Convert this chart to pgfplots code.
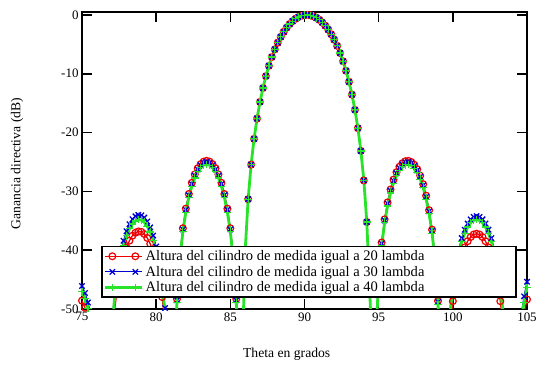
\documentclass[border=0pt]{standalone}
\usepackage{fontspec}
\setmainfont{Liberation Serif}
\usepackage{pgfplots}
\usepackage{pgfplotstable}
\pgfplotsset{compat=1.18}
\definecolor{cred}{RGB}{240,0,0}
\definecolor{cblue}{RGB}{0,0,210}
\definecolor{cgreen}{RGB}{40,228,40}

\pgfplotstableread{
theta red blue green
75.0 -48.58 -46.08 -47.08
75.2 -49.78 -47.28 -48.28
75.4 -51.39 -48.89 -49.89
75.6 -53.53 -51.03 -52.03
75.8 -56.38 -53.88 -54.88
76.0 -60 -57.78 -58.78
76.2 -60 -60 -60
76.4 -60 -60 -60
76.6 -60 -60 -60
76.8 -60 -60 -60
77.0 -55.83 -53.03 -53.83
77.2 -50.08 -47.28 -48.08
77.4 -46.18 -43.38 -44.18
77.6 -43.33 -40.53 -41.33
77.8 -41.19 -38.39 -39.19
78.0 -39.57 -36.77 -37.57
78.2 -38.38 -35.58 -36.38
78.4 -37.54 -34.74 -35.54
78.6 -37.03 -34.23 -35.03
78.8 -36.81 -34.01 -34.81
79.0 -36.88 -34.08 -34.88
79.2 -37.25 -34.45 -35.25
79.4 -37.92 -35.12 -35.92
79.6 -38.92 -36.12 -36.92
79.8 -40.32 -37.52 -38.32
80.0 -42.18 -39.38 -40.18
80.2 -44.65 -41.85 -42.65
80.4 -47.97 -45.17 -45.97
80.6 -52.64 -49.84 -50.64
80.8 -60 -57.19 -57.99
81.0 -60 -60 -60
81.2 -60 -60 -60
81.4 -48.31 -48.51 -48.91
81.6 -40.95 -41.15 -41.55
81.8 -36.27 -36.47 -36.87
82.0 -32.93 -33.13 -33.53
82.2 -30.44 -30.64 -31.04
82.4 -28.55 -28.75 -29.15
82.6 -27.12 -27.32 -27.72
82.8 -26.07 -26.27 -26.67
83.0 -25.36 -25.56 -25.96
83.2 -24.94 -25.14 -25.54
83.4 -24.80 -25.00 -25.40
83.6 -24.94 -25.14 -25.54
83.8 -25.36 -25.56 -25.96
84.0 -26.07 -26.27 -26.67
84.2 -27.12 -27.32 -27.72
84.4 -28.55 -28.75 -29.15
84.6 -30.44 -30.64 -31.04
84.8 -32.93 -33.13 -33.53
85.0 -36.27 -36.47 -36.87
85.2 -40.95 -41.15 -41.55
85.4 -48.31 -48.51 -48.91
85.6 -60 -60 -60
85.8 -58.25 -58.25 -58.25
86.0 -40.18 -40.18 -40.18
86.2 -31.32 -31.32 -31.32
86.4 -25.45 -25.45 -25.45
86.6 -21.07 -21.07 -21.07
86.8 -17.62 -17.62 -17.62
87.0 -14.79 -14.79 -14.79
87.2 -12.42 -12.42 -12.42
87.4 -10.40 -10.40 -10.40
87.6 -8.66 -8.66 -8.66
87.8 -7.15 -7.15 -7.15
88.0 -5.85 -5.85 -5.85
88.2 -4.71 -4.71 -4.71
88.4 -3.73 -3.73 -3.73
88.6 -2.88 -2.88 -2.88
88.8 -2.16 -2.16 -2.16
89.0 -1.55 -1.55 -1.55
89.2 -1.05 -1.05 -1.05
89.4 -0.65 -0.65 -0.65
89.6 -0.35 -0.35 -0.35
89.8 -0.14 -0.14 -0.14
90.0 -0.03 -0.03 -0.03
90.2 0.00 0.00 0.00
90.4 -0.07 -0.07 -0.07
90.6 -0.23 -0.23 -0.23
90.8 -0.48 -0.48 -0.48
91.0 -0.83 -0.83 -0.83
91.2 -1.28 -1.28 -1.28
91.4 -1.84 -1.84 -1.84
91.6 -2.50 -2.50 -2.50
91.8 -3.29 -3.29 -3.29
92.0 -4.20 -4.20 -4.20
92.2 -5.26 -5.26 -5.26
92.4 -6.48 -6.48 -6.48
92.6 -7.88 -7.88 -7.88
92.8 -9.50 -9.50 -9.50
93.0 -11.37 -11.37 -11.37
93.2 -13.55 -13.55 -13.55
93.4 -16.14 -16.14 -16.14
93.6 -19.25 -19.25 -19.25
93.8 -23.12 -23.12 -23.12
94.0 -28.14 -28.14 -28.14
94.2 -35.21 -35.21 -35.21
94.4 -47.06 -47.06 -47.06
94.6 -60 -60 -60
94.8 -54.56 -54.76 -55.16
95.0 -44.46 -44.66 -45.06
95.2 -38.69 -38.89 -39.29
95.4 -34.75 -34.95 -35.35
95.6 -31.87 -32.07 -32.47
95.8 -29.68 -29.88 -30.28
96.0 -28.00 -28.20 -28.60
96.2 -26.73 -26.93 -27.33
96.4 -25.81 -26.01 -26.41
96.6 -25.21 -25.41 -25.81
96.8 -24.87 -25.07 -25.47
97.0 -24.81 -25.01 -25.41
97.2 -25.01 -25.21 -25.61
97.4 -25.47 -25.67 -26.07
97.6 -26.23 -26.43 -26.83
97.8 -27.33 -27.53 -27.93
98.0 -28.78 -28.98 -29.38
98.2 -30.73 -30.93 -31.33
98.4 -33.20 -33.40 -33.80
98.6 -36.50 -36.70 -37.10
98.8 -41.18 -41.38 -41.78
99.0 -48.61 -48.81 -49.21
99.2 -60 -60 -60
99.4 -60 -60 -60
99.6 -60 -57.71 -58.31
99.8 -53.35 -50.35 -50.95
100.0 -48.67 -45.67 -46.27
100.2 -45.33 -42.33 -42.93
100.4 -42.84 -39.84 -40.44
100.6 -40.95 -37.95 -38.55
100.8 -39.52 -36.52 -37.12
101.0 -38.47 -35.47 -36.07
101.2 -37.76 -34.76 -35.36
101.4 -37.34 -34.34 -34.94
101.6 -37.20 -34.20 -34.80
101.8 -37.34 -34.34 -34.94
102.0 -37.76 -34.76 -35.36
102.2 -38.47 -35.47 -36.07
102.4 -39.52 -36.52 -37.12
102.6 -40.95 -37.95 -38.55
102.8 -42.84 -39.84 -40.44
103.0 -45.33 -42.33 -42.93
103.2 -48.67 -45.67 -46.27
103.4 -53.35 -50.35 -50.95
103.6 -60 -57.71 -58.31
103.8 -60 -60 -60
104.0 -60 -60 -60
104.2 -60 -60 -60
104.4 -58.84 -55.84 -56.84
104.6 -54.17 -51.17 -52.17
104.8 -50.85 -47.85 -48.85
105.0 -48.38 -45.38 -46.38
}\patterndata

\begin{document}
\begin{tikzpicture}
\path[use as bounding box] (-82bp,-56bp) rectangle (455bp,309bp);
\begin{axis}[
  at={(0,0)}, anchor=south west,
  scale only axis, width=445bp, height=297bp,
  xmin=75, xmax=105, ymin=-50, ymax=0.5,
  xtick={75,80,...,105}, ytick={-50,-40,...,0},
  tick align=inside, major tick length=10bp,
  axis line style={line width=1.6bp},
  every tick/.style={black, line width=1.6bp},
  tick label style={font=\fontsize{13}{14}\selectfont},
  /pgf/number format/assume math mode=true,
  xlabel={Theta en grados},
  ylabel={Ganancia directiva (dB)},
  label style={font=\fontsize{13.7}{15}\selectfont},
  xlabel style={at={(axis description cs:0.46,-0.152)}, anchor=center},
  ylabel style={at={(axis description cs:-0.146,0.49)}, anchor=center},
  legend style={at={(axis description cs:0.043,0.037)}, anchor=south west,
    draw=black, line width=1.6bp, font=\fontsize{14.6}{15}\selectfont,
    row sep=0bp, inner sep=2bp, cells={anchor=west}},
  legend image code/.code={%
    \draw[#1,mark=none] (0bp,0bp) -- (37bp,0bp);
    \draw[#1,only marks] plot coordinates {(7bp,0bp) (30bp,0bp)};},
]
\addplot[cred, line width=1.3bp, mark=o, mark size=3.4bp, mark options={line width=1.2bp}]
  table[x=theta, y=red] {\patterndata};
\addlegendentry{\makebox[366bp][l]{Altura del cilindro de medida igual a 20 lambda}}
\addplot[cblue, line width=1.2bp, mark=x, mark size=3.8bp, mark options={line width=1.3bp}]
  table[x=theta, y=blue] {\patterndata};
\addlegendentry{\makebox[366bp][l]{Altura del cilindro de medida igual a 30 lambda}}
\addplot[cgreen, line width=2.8bp, mark=+, mark size=3.8bp, mark options={line width=1.2bp}]
  table[x=theta, y=green] {\patterndata};
\addlegendentry{\makebox[366bp][l]{Altura del cilindro de medida igual a 40 lambda}}
\end{axis}
\end{tikzpicture}
\end{document}
